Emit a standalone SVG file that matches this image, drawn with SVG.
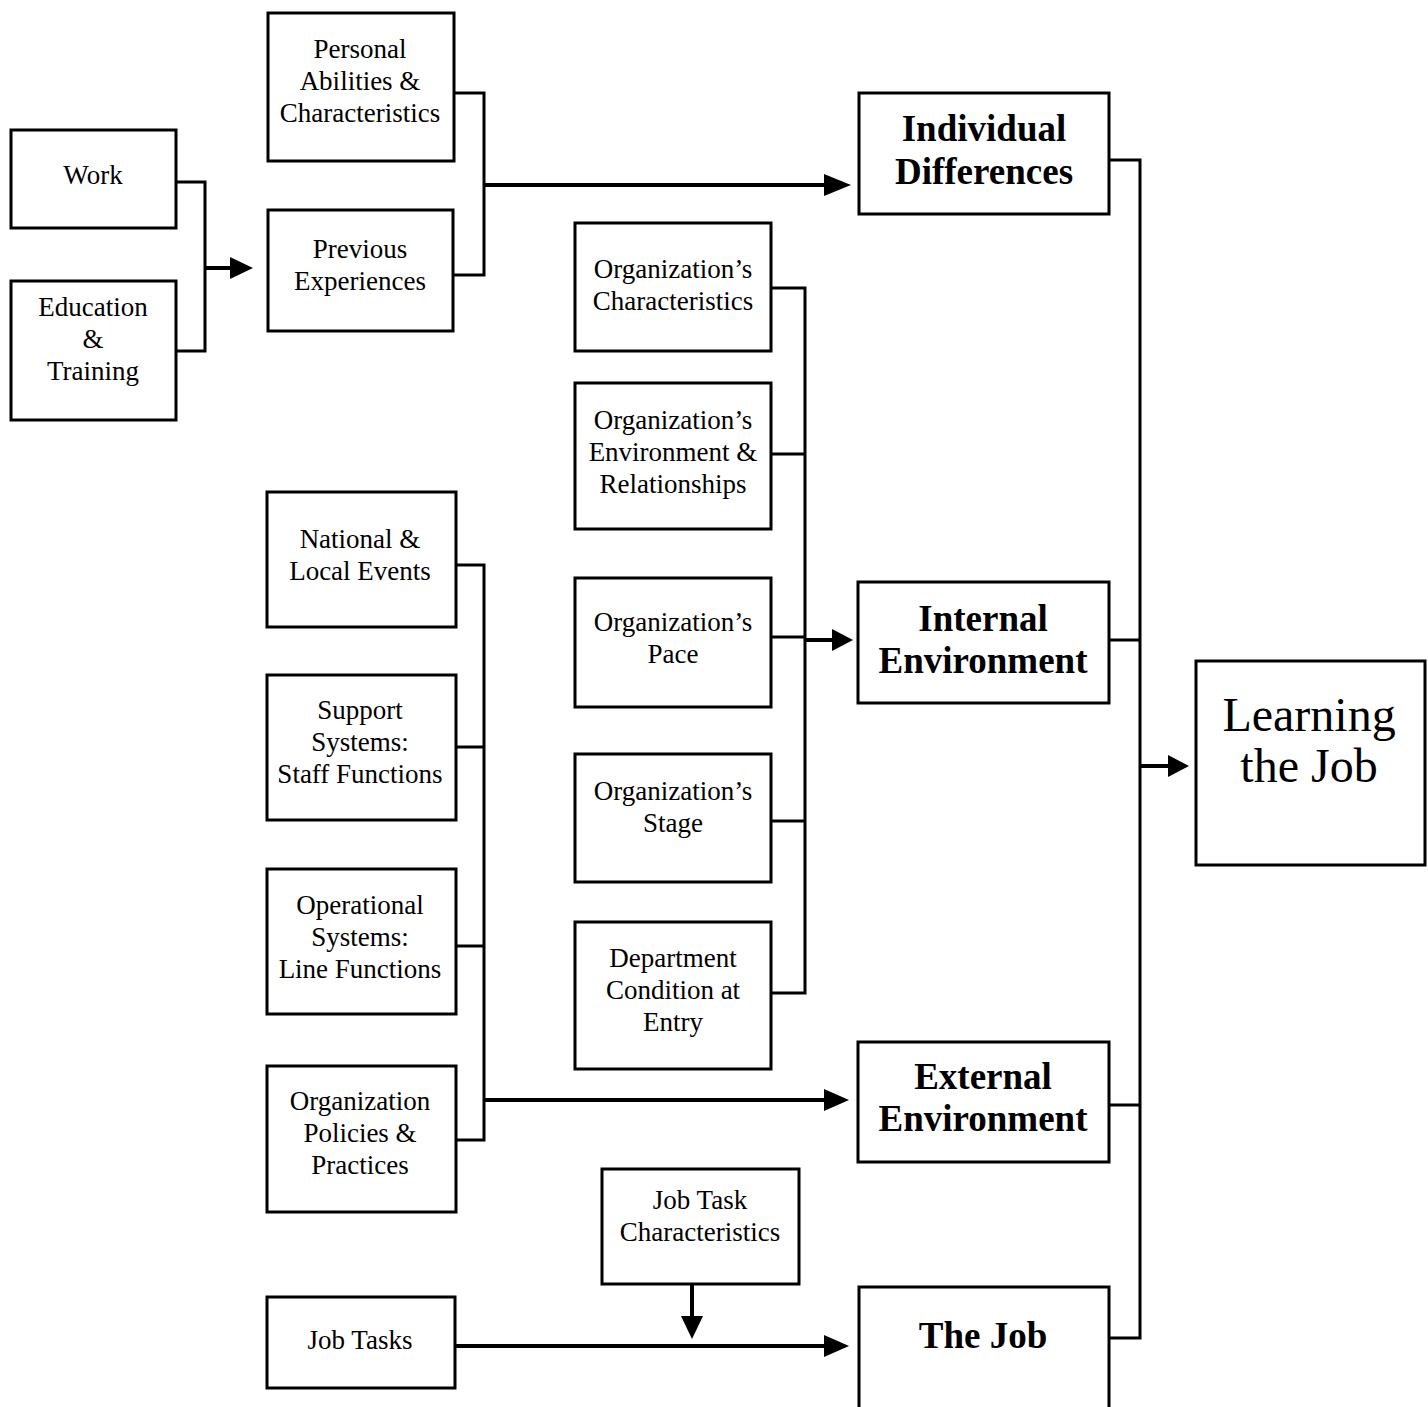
<svg xmlns="http://www.w3.org/2000/svg" width="1428" height="1407" viewBox="0 0 1428 1407">
<style>
.box{fill:#fff;stroke:#000;stroke-width:3}
.t{font-family:"Liberation Serif","Times New Roman",serif;font-size:27px;text-anchor:middle;fill:#000}
.b{font-family:"Liberation Serif","Times New Roman",serif;font-size:37px;font-weight:bold;text-anchor:middle;fill:#000}
.L{font-family:"Liberation Serif","Times New Roman",serif;font-size:48px;text-anchor:middle;fill:#000}
.c{fill:none;stroke:#000;stroke-width:3}
.a{fill:none;stroke:#000;stroke-width:4}
</style>
<defs>
<marker id="ah" markerWidth="10" markerHeight="10" refX="8" refY="5" orient="auto" markerUnits="userSpaceOnUse" viewBox="0 0 10 10">
<path d="M0,0 L10,5 L0,10 Z" fill="#000"/>
</marker>
</defs>
<rect width="1428" height="1407" fill="#fff"/>
<g id="connectors">
<polyline class="c" points="176,182 205,182 205,351 176,351"/>
<line class="a" x1="205" y1="268" x2="232" y2="268"/>
<path d="M230,257 L253,268 L230,279 Z"/>
<polyline class="c" points="454,93 484,93 484,275 453,275"/>
<line class="a" x1="484" y1="185" x2="826" y2="185"/>
<path d="M824,174 L851,185 L824,196 Z"/>
<polyline class="c" points="771,288 805,288 805,993 771,993"/>
<line class="c" x1="771" y1="454" x2="805" y2="454"/>
<line class="c" x1="771" y1="637" x2="805" y2="637"/>
<line class="c" x1="771" y1="821" x2="805" y2="821"/>
<line class="a" x1="805" y1="640" x2="834" y2="640"/>
<path d="M832,629 L853,640 L832,651 Z"/>
<polyline class="c" points="456,565 484,565 484,1140 456,1140"/>
<line class="c" x1="456" y1="747" x2="484" y2="747"/>
<line class="c" x1="456" y1="946" x2="484" y2="946"/>
<line class="a" x1="484" y1="1100" x2="826" y2="1100"/>
<path d="M824,1089 L849,1100 L824,1111 Z"/>
<line class="a" x1="692" y1="1284" x2="692" y2="1318"/>
<path d="M681,1316 L692,1339 L703,1316 Z"/>
<line class="a" x1="455" y1="1346" x2="826" y2="1346"/>
<path d="M824,1335 L849,1346 L824,1357 Z"/>
<polyline class="c" points="1109,160 1140,160 1140,1338 1109,1338"/>
<line class="c" x1="1109" y1="640" x2="1140" y2="640"/>
<line class="c" x1="1109" y1="1105" x2="1140" y2="1105"/>
<line class="a" x1="1140" y1="766" x2="1170" y2="766"/>
<path d="M1168,755 L1189,766 L1168,777 Z"/>
</g>
<g id="work"><rect class="box" x="11" y="130" width="165" height="98"/><text class="t" x="93" y="184">Work</text></g>
<g id="education"><rect class="box" x="11" y="281" width="165" height="139"/><text class="t" x="93" y="316">Education</text><text class="t" x="93" y="348">&amp;</text><text class="t" x="93" y="380">Training</text></g>
<g id="personal"><rect class="box" x="268" y="13" width="186" height="148"/><text class="t" x="360" y="58">Personal</text><text class="t" x="360" y="90">Abilities &amp;</text><text class="t" x="360" y="122">Characteristics</text></g>
<g id="previous"><rect class="box" x="268" y="210" width="185" height="121"/><text class="t" x="360" y="258">Previous</text><text class="t" x="360" y="290">Experiences</text></g>
<g id="individual"><rect class="box" x="859" y="93" width="250" height="121"/><text class="b" x="984" y="141">Individual</text><text class="b" x="984" y="184">Differences</text></g>
<g id="orgchar"><rect class="box" x="575" y="223" width="196" height="128"/><text class="t" x="673" y="278">Organization’s</text><text class="t" x="673" y="310">Characteristics</text></g>
<g id="orgenv"><rect class="box" x="575" y="383" width="196" height="146"/><text class="t" x="673" y="429">Organization’s</text><text class="t" x="673" y="461">Environment &amp;</text><text class="t" x="673" y="493">Relationships</text></g>
<g id="orgpace"><rect class="box" x="575" y="578" width="196" height="129"/><text class="t" x="673" y="631">Organization’s</text><text class="t" x="673" y="663">Pace</text></g>
<g id="orgstage"><rect class="box" x="575" y="754" width="196" height="128"/><text class="t" x="673" y="800">Organization’s</text><text class="t" x="673" y="832">Stage</text></g>
<g id="dept"><rect class="box" x="575" y="922" width="196" height="147"/><text class="t" x="673" y="967">Department</text><text class="t" x="673" y="999">Condition at</text><text class="t" x="673" y="1031">Entry</text></g>
<g id="internal"><rect class="box" x="858" y="582" width="251" height="121"/><text class="b" x="983" y="631">Internal</text><text class="b" x="983" y="673">Environment</text></g>
<g id="national"><rect class="box" x="267" y="492" width="189" height="135"/><text class="t" x="360" y="548">National &amp;</text><text class="t" x="360" y="580">Local Events</text></g>
<g id="support"><rect class="box" x="267" y="675" width="189" height="145"/><text class="t" x="360" y="719">Support</text><text class="t" x="360" y="751">Systems:</text><text class="t" x="360" y="783">Staff Functions</text></g>
<g id="operational"><rect class="box" x="267" y="869" width="189" height="145"/><text class="t" x="360" y="914">Operational</text><text class="t" x="360" y="946">Systems:</text><text class="t" x="360" y="978">Line Functions</text></g>
<g id="policies"><rect class="box" x="267" y="1066" width="189" height="146"/><text class="t" x="360" y="1110">Organization</text><text class="t" x="360" y="1142">Policies &amp;</text><text class="t" x="360" y="1174">Practices</text></g>
<g id="external"><rect class="box" x="858" y="1042" width="251" height="120"/><text class="b" x="983" y="1089">External</text><text class="b" x="983" y="1131">Environment</text></g>
<g id="jobtaskchar"><rect class="box" x="602" y="1169" width="197" height="115"/><text class="t" x="700" y="1209">Job Task</text><text class="t" x="700" y="1241">Characteristics</text></g>
<g id="jobtasks"><rect class="box" x="267" y="1297" width="188" height="91"/><text class="t" x="360" y="1349">Job Tasks</text></g>
<g id="thejob"><rect class="box" x="859" y="1287" width="250" height="125"/><text class="b" x="983" y="1348">The Job</text></g>
<g id="learning"><rect class="box" x="1196" y="661" width="229" height="204"/><text class="L" x="1309" y="731">Learning</text><text class="L" x="1309" y="782">the Job</text></g>
</svg>
